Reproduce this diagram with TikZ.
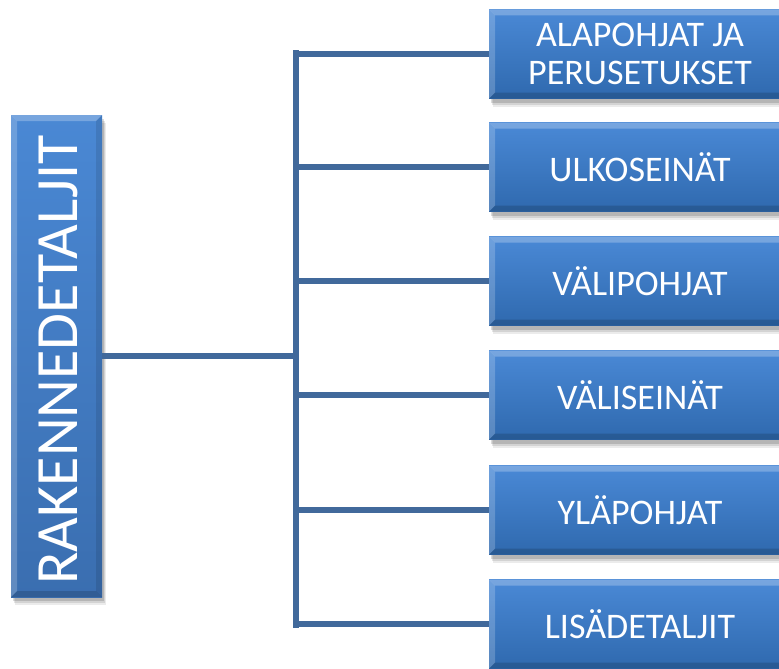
\documentclass[tikz,border=0pt]{standalone}
\usepackage{fontspec}
\setmainfont{Carlito}
\usetikzlibrary{shadows,calc}

\definecolor{linkblue}{HTML}{41699B}
\definecolor{boxtop}{HTML}{4A89D6}
\definecolor{boxbot}{HTML}{2F69AE}
\definecolor{maintop}{HTML}{4A88D4}
\definecolor{mainbot}{HTML}{3A6EB0}

\def\ppbb{path picture bounding box}

\tikzset{
  x=1pt, y=-1pt,
  bevel/.style={path picture={
      % light top and left edges, dark bottom and right edges
      \fill[white,opacity=0.25] (\ppbb.north west) -- (\ppbb.north east)
        -- ($(\ppbb.north east)+(-6pt,-6pt)$) -- ($(\ppbb.north west)+(6pt,-6pt)$) -- cycle;
      \fill[white,opacity=0.20] (\ppbb.north west) -- (\ppbb.south west)
        -- ($(\ppbb.south west)+(6pt,6pt)$) -- ($(\ppbb.north west)+(6pt,-6pt)$) -- cycle;
      \fill[black,opacity=0.15] (\ppbb.south west) -- (\ppbb.south east)
        -- ($(\ppbb.south east)+(-6pt,6pt)$) -- ($(\ppbb.south west)+(6pt,6pt)$) -- cycle;
      \fill[black,opacity=0.10] (\ppbb.north east) -- (\ppbb.south east)
        -- ($(\ppbb.south east)+(-6pt,6pt)$) -- ($(\ppbb.north east)+(-6pt,-6pt)$) -- cycle;
  }},
  % soft shadow built from a few stacked offsets
  boxshadow/.style={
      drop shadow={shadow xshift=4pt, shadow yshift=-8pt, opacity=0.08, fill=black},
      drop shadow={shadow xshift=3pt, shadow yshift=-6pt, opacity=0.10, fill=black},
      drop shadow={shadow xshift=2pt, shadow yshift=-4pt, opacity=0.14, fill=black}},
  topicbox/.style={rectangle, minimum width=302pt, minimum height=89pt,
      top color=boxtop, bottom color=boxbot, text=white, align=center,
      font=\fontsize{36}{38}\selectfont, inner sep=0pt, boxshadow, bevel},
  mainbox/.style={rectangle, minimum width=91pt, minimum height=482pt,
      top color=maintop, bottom color=mainbot, inner sep=0pt, boxshadow, bevel},
  link/.style={draw=linkblue, line width=5.5pt},
}

\begin{document}
\begin{tikzpicture}
\useasboundingbox (0,0) rectangle (779,669);

\node[mainbox] (main) at (56.5,356) {};
\node[rotate=90, text=white, font=\fontsize{60}{61}\selectfont, inner sep=0pt]
  (maintext) at (58,360) {RAKENNEDETALJIT};

\node[topicbox] (b1) at (640,54)  {ALAPOHJAT JA\\PERUSETUKSET};
\node[topicbox] (b2) at (640,167) {ULKOSEINÄT};
\node[topicbox] (b3) at (640,281) {VÄLIPOHJAT};
\node[topicbox] (b4) at (640,395) {VÄLISEINÄT};
\node[topicbox] (b5) at (640,510) {YLÄPOHJAT};
\node[topicbox] (b6) at (640,624) {LISÄDETALJIT};

\coordinate (trunk) at (296,356);
\coordinate (ttop) at (296,53);
\coordinate (tbot) at (296,625);

\draw[link] (main.east |- trunk) -- (trunk);
\draw[link, line cap=rect] (ttop) -- (tbot);
\foreach \b in {b1,b2,b3,b4,b5,b6}
  \draw[link] (ttop |- \b.west) -- (\b.west);
\end{tikzpicture}
\end{document}
